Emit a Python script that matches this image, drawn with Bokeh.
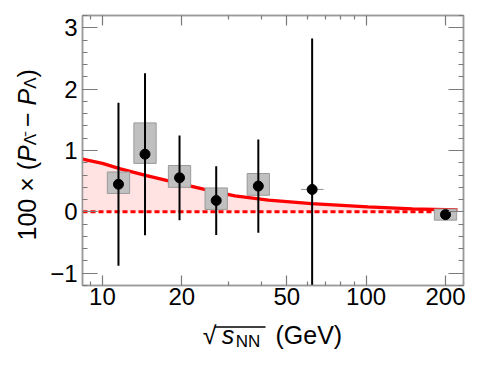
import numpy as np
from bokeh.plotting import figure
from bokeh.layouts import row, column
from bokeh.models import (Range1d, FixedTicker, LogAxis, LinearAxis, CustomJSTickFormatter)
from bokeh.core.properties import value
from bokeh.embed import file_html
from bokeh.resources import INLINE

# ---------------- data ----------------
energies = [11.5, 14.5, 19.6, 27.0, 39.0, 62.4, 200.0]
delta_p = [0.45, 0.94, 0.555, 0.185, 0.42, 0.365, -0.045]
stat_err = [1.33, 1.32, 0.69, 0.56, 0.76, 2.46, 0.03]
sys_low = [0.30, 0.79, 0.40, 0.04, 0.27, 0.365, -0.135]
sys_high = [0.65, 1.45, 0.755, 0.39, 0.625, 0.365, 0.045]

curve_energy = [8.4, 10.0, 11.7, 14.7, 19.7, 25.3, 31.8, 42.6, 62.1, 101.5, 150.0, 222.0]
curve_value = [0.86, 0.79, 0.70, 0.59, 0.46, 0.35, 0.26, 0.19, 0.135, 0.08, 0.05, 0.03]
curve_zero = [0.0] * len(curve_energy)

x_ticks = [10, 20, 50, 100, 200]
x_minor_ticks = [9, 30, 40, 60, 70, 80, 90]
y_ticks = [-1, 0, 1, 2, 3]
y_minor_ticks = [round(v, 1) for v in np.arange(-1.2, 3.21, 0.2)]

# ---------------- style ----------------
FONT = "Liberation Sans"
GRAY = "#9a9a9a"
TICK = "#7a7a7a"
box_half = 0.0423  # half width of systematic boxes, in decades

LEFT_W, MAIN_W = 47, 431
MAIN_H, BOTTOM_H = 315, 45

p = figure(x_axis_type="log", x_range=Range1d(8.4, 234.0), y_range=Range1d(-1.2, 3.2),
           width=MAIN_W, height=MAIN_H, output_backend="svg", toolbar_location=None,
           min_border_left=33, min_border_right=15, min_border_top=15, min_border_bottom=30)
p.grid.visible = False
p.outline_line_color = GRAY
p.outline_line_width = 1.5

xfmt = CustomJSTickFormatter(code="return String(tick);")
yfmt = CustomJSTickFormatter(code="return tick < 0 ? '\u2212' + Math.abs(tick) : String(tick);")


def style_axis(ax, major_len, minor_len, labels=True, standoff=4):
    ax.major_tick_in = major_len
    ax.major_tick_out = 0
    ax.minor_tick_in = minor_len
    ax.minor_tick_out = 0
    ax.axis_line_color = GRAY
    ax.axis_line_width = 1.5
    ax.major_tick_line_color = TICK
    ax.minor_tick_line_color = TICK
    ax.major_tick_line_width = 1.2
    ax.minor_tick_line_width = 1.2
    ax.major_label_standoff = standoff
    if labels:
        ax.major_label_text_font = FONT
        ax.major_label_text_font_size = "24px"
        ax.major_label_text_color = "black"
    else:
        ax.major_label_text_font_size = "0px"
        ax.major_label_text_color = None
        ax.major_label_standoff = 0


xax = p.xaxis[0]
xax.ticker = FixedTicker(ticks=x_ticks, minor_ticks=x_minor_ticks)
xax.formatter = xfmt
style_axis(xax, 10, 4, True, 2)

yax = p.yaxis[0]
yax.ticker = FixedTicker(ticks=y_ticks, minor_ticks=y_minor_ticks)
yax.formatter = yfmt
style_axis(yax, 15, 5, True, 5)

top_ax = LogAxis(ticker=FixedTicker(ticks=x_ticks, minor_ticks=x_minor_ticks))
style_axis(top_ax, 10, 4, False)
p.add_layout(top_ax, "above")

right_ax = LinearAxis(ticker=FixedTicker(ticks=y_ticks, minor_ticks=y_minor_ticks))
style_axis(right_ax, 15, 5, False)
p.add_layout(right_ax, "right")

# ---------------- glyphs ----------------
p.varea(x=curve_energy, y1=curve_zero, y2=curve_value, fill_color="#ffe2e2")
p.line(curve_energy, curve_zero, line_color="#ff0000", line_width=3, line_dash="5 3")
p.line(curve_energy, curve_value, line_color="#ff0000", line_width=3.3)

box_left = [e / 10 ** box_half for e in energies]
box_right = [e * 10 ** box_half for e in energies]
p.quad(left=box_left, right=box_right, bottom=sys_low, top=sys_high,
       fill_color="#c0c0c0", line_color=GRAY, line_width=1)

err_lo = [v - s for v, s in zip(delta_p, stat_err)]
err_hi = [v + s for v, s in zip(delta_p, stat_err)]
p.segment(x0=energies, y0=err_lo, x1=energies, y1=err_hi, line_color="black", line_width=2)
p.scatter(energies, delta_p, size=10, marker="circle", fill_color="black", line_color="black")


# ---------------- axis-title strips (text only) ----------------
def text_strip(w, h, xr):
    f = figure(width=w, height=h, x_range=xr, y_range=Range1d(0, h),
               output_backend="svg", toolbar_location=None, min_border=0,
               x_axis_location=None, y_axis_location=None)
    f.grid.visible = False
    f.outline_line_color = None
    return f


def put(f, x, y, txt, size, style="normal", angle=0.0):
    f.text(x=[x], y=[y], text=[txt], angle=angle, text_font=value(FONT),
           text_font_style=value(style), text_font_size=value(f"{size}px"),
           text_align=value("left"), text_baseline=value("middle"), text_color="black")


fs, sfs = 25, 17
left = text_strip(LEFT_W, MAIN_H + BOTTOM_H, Range1d(0, LEFT_W))
y_pieces = [("100 \u00d7 (", "normal", fs, 3.141), ("P", "italic", fs, 0.667),
            ("\u039b\u0304", "normal", sfs, 0.667 + 0.278 * fs / sfs),
            ("\u2212", "normal", fs, 0.584 + 0.278), ("P", "italic", fs, 0.667),
            ("\u039b", "normal", sfs, 0.667), (")", "normal", fs, 0.333)]
pos = 120.0
for txt, style, size, em in y_pieces:
    put(left, 26 if size == fs else 30, pos, txt, size, style, np.pi / 2)
    pos += em * size

# the bottom strip's frame is aligned with the main frame (page x 80..463)
bottom = text_strip(MAIN_W, BOTTOM_H, Range1d(80, 463))
put(bottom, 201, 26, "\u221a", fs)
put(bottom, 220, 26, "s", fs, "italic")
put(bottom, 234, 19, "NN", sfs)
put(bottom, 274, 26, "(GeV)", fs)
bottom.segment(x0=[213], y0=[33.5], x1=[264], y1=[33.5], line_color="black", line_width=1.3)

layout = row(left, column(p, bottom))
open("out.html", "w").write(file_html(layout, INLINE))
